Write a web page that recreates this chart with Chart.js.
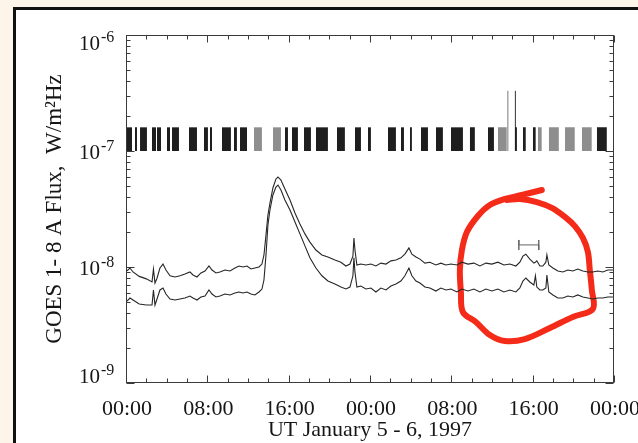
<!DOCTYPE html>
<html>
<head>
<meta charset="utf-8">
<title>GOES 1-8 A flux, January 5-6, 1997</title>
<script src="https://cdn.jsdelivr.net/npm/chart.js@4.4.1/dist/chart.umd.min.js"></script>
<style>
  html, body { margin: 0; padding: 0; width: 638px; height: 443px; overflow: hidden; background: #fdf4ea; }
  #sheet { position: absolute; left: 13px; top: 7px; width: 700px; height: 520px;
           border-left: 3px solid #111; border-top: 3px solid #111; background: #fff; }
  #c { position: absolute; left: 0; top: 0; }
</style>
</head>
<body>
<div id="sheet"></div>
<canvas id="c" width="638" height="443"></canvas>
<script>
// Time in hours from 00:00 UT January 5, 1997
const timeHours = [
  0.1, 0.39, 0.69, 1.3, 2.0, 2.56, 2.7, 2.85, 3.05, 3.34,
  3.64, 3.93, 4.33, 4.82, 5.31, 5.8, 6.29, 6.59, 6.98, 7.37,
  7.77, 8.16, 8.46, 8.85, 9.24, 9.73, 10.23, 10.72, 11.11, 11.5,
  11.9, 12.29, 12.68, 13.08, 13.37, 13.57, 13.77, 13.96, 14.16, 14.45,
  14.75, 14.95, 15.24, 15.63, 16.13, 16.62, 17.11, 17.6, 18.09, 18.68,
  19.27, 19.86, 20.55, 21.14, 21.63, 22.03, 22.32, 22.42, 22.52, 22.71,
  23.1, 23.6, 24.09, 24.58, 25.07, 25.57, 26.06, 26.55, 27.04, 27.43,
  27.83, 28.12, 28.52, 28.91, 29.4, 29.89, 30.48, 30.97, 31.47, 31.96,
  32.55, 33.04, 33.63, 34.22, 34.81, 35.4, 35.99, 36.58, 37.17, 37.76,
  38.35, 38.74, 39.04, 39.33, 39.72, 40.12, 40.27, 40.41, 40.71, 41.0,
  41.3, 41.4, 41.59, 41.99, 42.48, 42.97, 43.46, 43.95, 44.44, 44.94,
  45.43, 45.92, 46.41, 46.9, 47.39, 47.89
];

// Flux, W/m^2 Hz — upper trace
const fluxUpper = [
  9.24e-9, 9.8e-9, 9.06e-9, 8.3e-9, 7.9e-9, 7.43e-9, 9.61e-9, 7.28e-9, 8.0e-9, 9.8e-9,
  1.06e-8, 9.42e-9, 8.4e-9, 8.2e-9, 8.4e-9, 8.7e-9, 9.06e-9, 8.53e-9, 8.2e-9, 8.88e-9,
  9.24e-9, 1.02e-8, 9.42e-9, 8.88e-9, 9.06e-9, 9.42e-9, 9.24e-9, 9.8e-9, 1.02e-8, 1.0e-8,
  1.02e-8, 9.61e-9, 9.8e-9, 1.0e-8, 1.06e-8, 1.27e-8, 1.89e-8, 2.81e-8, 3.56e-8, 4.80e-8,
  5.74e-8, 5.97e-8, 5.62e-8, 4.70e-8, 3.78e-8, 2.92e-8, 2.35e-8, 1.93e-8, 1.64e-8, 1.40e-8,
  1.27e-8, 1.22e-8, 1.15e-8, 1.10e-8, 1.02e-8, 1.06e-8, 1.24e-8, 1.78e-8, 1.40e-8, 1.04e-8,
  1.06e-8, 1.04e-8, 1.06e-8, 1.02e-8, 1.08e-8, 1.06e-8, 1.13e-8, 1.15e-8, 1.20e-8, 1.29e-8,
  1.46e-8, 1.29e-8, 1.22e-8, 1.17e-8, 1.08e-8, 1.10e-8, 1.04e-8, 1.08e-8, 1.04e-8, 1.06e-8,
  1.04e-8, 1.10e-8, 1.06e-8, 1.08e-8, 1.02e-8, 1.08e-8, 1.06e-8, 1.10e-8, 1.04e-8, 1.06e-8,
  1.02e-8, 1.10e-8, 1.24e-8, 1.29e-8, 1.17e-8, 1.08e-8, 1.10e-8, 1.13e-8, 1.02e-8, 1.02e-8,
  1.10e-8, 1.27e-8, 1.04e-8, 9.8e-9, 9.24e-9, 9.06e-9, 9.42e-9, 9.24e-9, 9.61e-9, 9.24e-9,
  9.06e-9, 9.06e-9, 9.24e-9, 9.06e-9, 9.42e-9, 9.42e-9
];

// Flux, W/m^2 Hz — lower trace
const fluxLower = [
  5.09e-9, 5.40e-9, 5.19e-9, 4.80e-9, 4.70e-9, 4.70e-9, 6.34e-9, 4.70e-9, 5.30e-9, 6.34e-9,
  6.59e-9, 5.85e-9, 5.30e-9, 5.19e-9, 5.30e-9, 5.40e-9, 5.62e-9, 5.40e-9, 5.19e-9, 5.51e-9,
  5.62e-9, 6.34e-9, 5.85e-9, 5.51e-9, 5.62e-9, 5.85e-9, 5.74e-9, 5.97e-9, 6.09e-9, 5.97e-9,
  6.09e-9, 5.85e-9, 5.74e-9, 6.09e-9, 6.46e-9, 7.72e-9, 1.27e-8, 2.30e-8, 3.10e-8, 4.18e-8,
  4.89e-8, 5.09e-8, 4.61e-8, 3.78e-8, 3.10e-8, 2.44e-8, 1.93e-8, 1.52e-8, 1.20e-8, 9.8e-9,
  8.4e-9, 7.57e-9, 7.14e-9, 6.72e-9, 6.46e-9, 6.72e-9, 8.4e-9, 1.20e-8, 9.06e-9, 6.72e-9,
  6.85e-9, 6.46e-9, 6.59e-9, 6.09e-9, 6.59e-9, 6.34e-9, 6.85e-9, 7.14e-9, 7.57e-9, 8.4e-9,
  9.8e-9, 8.4e-9, 7.57e-9, 7.28e-9, 6.72e-9, 6.59e-9, 6.21e-9, 6.59e-9, 6.34e-9, 6.46e-9,
  6.09e-9, 6.46e-9, 6.21e-9, 6.46e-9, 6.09e-9, 6.46e-9, 6.21e-9, 6.46e-9, 6.09e-9, 6.34e-9,
  6.09e-9, 6.59e-9, 7.57e-9, 8.04e-9, 7.43e-9, 7.00e-9, 8.4e-9, 6.72e-9, 6.34e-9, 6.34e-9,
  6.59e-9, 8.53e-9, 6.09e-9, 5.74e-9, 5.40e-9, 5.40e-9, 5.62e-9, 5.51e-9, 5.74e-9, 5.51e-9,
  5.40e-9, 5.30e-9, 5.40e-9, 5.40e-9, 5.51e-9, 5.51e-9
];

// Radio burst occurrence bands (hours): dense and sparse groups
const denseStart = [0.10, 0.88, 1.38, 2.56, 3.05, 4.03, 4.52, 6.19, 7.67, 8.26,
                    9.44, 10.62, 11.21, 15.63, 16.32, 17.50, 18.68, 20.75, 22.52, 23.80,
                    25.76, 27.04, 27.93, 29.01, 30.48, 31.96, 33.82, 35.60, 38.25, 39.04,
                    40.02, 46.31];
const denseEnd   = [0.59, 1.08, 2.06, 2.95, 3.44, 4.33, 5.21, 6.98, 8.06, 8.46,
                    10.32, 10.91, 11.90, 15.93, 16.91, 18.19, 19.86, 21.53, 23.11, 24.09,
                    26.55, 27.34, 28.12, 29.70, 31.17, 33.14, 34.32, 36.19, 38.45, 39.33,
                    40.31, 47.30];
const sparseStart = [12.59, 14.45, 36.58, 40.51, 41.59, 43.17, 44.84];
const sparseEnd   = [13.37, 15.24, 37.46, 40.90, 42.58, 44.15, 45.82];
const burstBase = 1.0e-7;
const burstTop = 1.6e-7;

// Two strong bursts reaching higher
const strongBurstHours = [37.56, 38.30];
const strongBurstTop = 3.3e-7;

// Interval bracket above the afternoon enhancement on January 6
const bracketHours = [38.64, 40.60];
const bracketFlux = 1.55e-8;
const bracketCapFlux = [1.40e-8, 1.71e-8];

// Hand-drawn highlight loop (hours, flux)
const loopHours = [40.90, 38.94, 37.27, 35.79, 34.61, 33.53, 33.04, 32.84, 32.94, 33.14,
                   34.41, 35.79, 37.27, 39.23, 41.69, 43.95, 45.92, 45.82, 45.62, 45.43,
                   44.94, 44.15, 43.17, 41.89, 40.41, 38.74, 37.46];
const loopFlux  = [4.61e-8, 4.18e-8, 3.86e-8, 3.42e-8, 2.75e-8, 2.00e-8, 1.40e-8, 9.42e-9, 6.09e-9, 4.09e-9,
                   3.36e-9, 2.59e-9, 2.30e-9, 2.39e-9, 2.98e-9, 3.71e-9, 4.35e-9, 6.34e-9, 9.42e-9, 1.35e-8,
                   1.78e-8, 2.25e-8, 2.70e-8, 3.23e-8, 3.63e-8, 3.86e-8, 3.78e-8];

// Axis ticks
const xMajorTicks = [0, 8, 16, 24, 32, 40, 48];
const xTickLabels = ['00:00', '08:00', '16:00', '00:00', '08:00', '16:00', '00:00'];
const xMinorStep = 2;
const yDecades = [1e-9, 1e-8, 1e-7, 1e-6];
const yExponents = ['-9', '-8', '-7', '-6'];

const SERIF = "'Liberation Serif', 'Times New Roman', serif";
const INK = '#161616';

const pts = (xs, ys) => xs.map((v, i) => ({ x: v, y: ys[i] }));

const datasets = [];
const band = (s, e, color) => ({
  data: [{ x: s, y: burstTop }, { x: e, y: burstTop }],
  borderColor: 'rgba(0,0,0,0)', borderWidth: 1, pointRadius: 0,
  backgroundColor: color, fill: { value: burstBase }
});
sparseStart.forEach((s, i) => datasets.push(band(s, sparseEnd[i], '#8e8e8e')));
denseStart.forEach((s, i) => datasets.push(band(s, denseEnd[i], '#1e1e1e')));

strongBurstHours.forEach((h, i) => datasets.push({
  data: [{ x: h, y: burstBase }, { x: h, y: strongBurstTop }],
  borderColor: i === 0 ? '#7a7a7a' : '#333', borderWidth: 1, pointRadius: 0, fill: false
}));

datasets.push({
  data: [
    { x: bracketHours[0], y: bracketCapFlux[1] }, { x: bracketHours[0], y: bracketCapFlux[0] },
    { x: bracketHours[0], y: bracketFlux }, { x: bracketHours[1], y: bracketFlux },
    { x: bracketHours[1], y: bracketCapFlux[1] }, { x: bracketHours[1], y: bracketCapFlux[0] }
  ],
  borderColor: '#666', borderWidth: 1, pointRadius: 0, fill: false
});

datasets.push({ data: pts(timeHours, fluxUpper), borderColor: '#262626', borderWidth: 1.1, pointRadius: 0, fill: false });
datasets.push({ data: pts(timeHours, fluxLower), borderColor: '#262626', borderWidth: 1.1, pointRadius: 0, fill: false });

datasets.push({
  data: pts(loopHours, loopFlux), borderColor: '#f52b1a', borderWidth: 6,
  pointRadius: 0, fill: false, tension: 0.35, borderCapStyle: 'round', borderJoinStyle: 'round'
});

// Boxed frame with inward ticks, drawn from the scales
const frameTicks = {
  id: 'frameTicks',
  beforeDatasetsDraw(chart) {
    const { ctx, chartArea: a, scales: { x, y } } = chart;
    ctx.save();
    ctx.strokeStyle = '#3a3a3a';
    ctx.lineWidth = 1;
    const L = Math.round(a.left) + 0.5, R = Math.round(a.right) - 0.5;
    const T = Math.round(a.top) + 0.5, B = Math.round(a.bottom) - 0.5;
    ctx.strokeRect(L, T, R - L, B - T);
    ctx.beginPath();
    for (let h = x.min; h <= x.max; h += xMinorStep) {
      const px = Math.round(x.getPixelForValue(h)) + 0.5;
      const len = xMajorTicks.includes(h) ? 7 : 4;
      ctx.moveTo(px, B); ctx.lineTo(px, B - len);
      ctx.moveTo(px, T); ctx.lineTo(px, T + len);
    }
    yDecades.forEach((d, i) => {
      const py = Math.round(y.getPixelForValue(d)) + 0.5;
      ctx.moveTo(L, py); ctx.lineTo(L + 8, py);
      ctx.moveTo(R, py); ctx.lineTo(R - 8, py);
      if (i < yDecades.length - 1) {
        for (let m = 2; m <= 9; m++) {
          const pm = Math.round(y.getPixelForValue(m * d)) + 0.5;
          ctx.moveTo(L, pm); ctx.lineTo(L + 4, pm);
          ctx.moveTo(R, pm); ctx.lineTo(R - 4, pm);
        }
      }
    });
    ctx.stroke();
    ctx.restore();
  },
  afterDraw(chart) {
    const { ctx, chartArea: a, scales: { x, y } } = chart;
    ctx.save();
    ctx.fillStyle = INK;
    // time labels
    ctx.font = `22px ${SERIF}`;
    ctx.textAlign = 'center';
    ctx.textBaseline = 'alphabetic';
    xMajorTicks.forEach((h, i) => ctx.fillText(xTickLabels[i], x.getPixelForValue(h) + 1, a.bottom + 32));
    ctx.fillText('UT January 5 - 6, 1997', (a.left + a.right) / 2, a.bottom + 53);
    // decade labels with superscript exponents
    yDecades.forEach((d, i) => {
      const py = y.getPixelForValue(d);
      let base = py + 8;
      if (i === yDecades.length - 1) base = py + 15;
      if (i === 0) base = py;
      ctx.font = `21px ${SERIF}`;
      ctx.textAlign = 'right';
      ctx.fillText('10', a.left - 26, base);
      ctx.font = `16px ${SERIF}`;
      ctx.textAlign = 'left';
      ctx.fillText(yExponents[i], a.left - 25, base - 8);
    });
    // vertical axis title
    ctx.translate(61, (a.top + a.bottom) / 2);
    ctx.rotate(-Math.PI / 2);
    ctx.font = `23px ${SERIF}`;
    ctx.textAlign = 'center';
    ctx.fillText('GOES 1- 8 A Flux,  W/m\u00B2Hz', 0, 0);
    ctx.restore();
  }
};

new Chart(document.getElementById('c'), {
  type: 'line',
  data: { datasets },
  options: {
    responsive: false,
    animation: false,
    devicePixelRatio: 1,
    layout: { padding: { left: 126, top: 35, right: 24, bottom: 60 } },
    scales: {
      x: { type: 'linear', min: 0, max: 48, display: false },
      y: { type: 'logarithmic', min: 1e-9, max: 1e-6, display: false }
    },
    plugins: { legend: { display: false }, tooltip: { enabled: false } },
    elements: { line: { tension: 0 } }
  },
  plugins: [frameTicks]
});
</script>
</body>
</html>
